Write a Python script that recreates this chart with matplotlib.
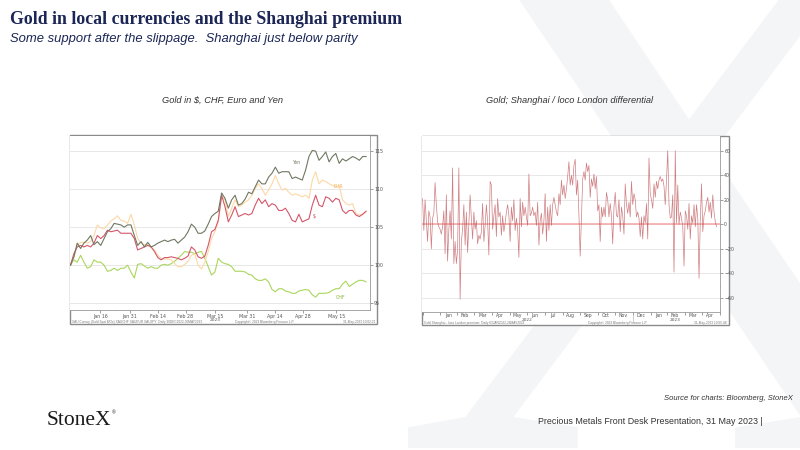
import numpy as np
import pandas as pd
import matplotlib
matplotlib.use("Agg")
import matplotlib.pyplot as plt
import matplotlib.dates as mdates
from matplotlib.patches import Rectangle, PathPatch
from matplotlib.textpath import TextPath
from matplotlib.font_manager import FontProperties
from matplotlib.transforms import Affine2D
from matplotlib.ticker import MultipleLocator, NullFormatter

# ---- left chart: gold rebased to 100, Jan-May 2023
gold_dates = pd.date_range("2023-01-01", "2023-05-30", periods=89)

gold_yen = [100.0, 101.1, 102.9, 102.2, 102.9, 103.3, 103.9, 102.7, 103.1, 102.6,
            103.5, 104.4, 104.8, 105.5, 105.4, 105.3, 105.0, 105.3, 105.3, 103.9,
            102.6, 103.1, 102.4, 103.0, 102.4, 102.6, 102.9, 103.1, 103.3, 103.1,
            103.3, 103.4, 102.9, 103.3, 103.7, 104.4, 105.4, 105.0, 104.2, 104.2,
            104.5, 105.4, 106.4, 106.8, 107.1, 109.5, 108.8, 107.5, 108.6, 109.2,
            107.9, 108.1, 108.7, 109.6, 109.4, 110.3, 111.2, 110.7, 110.7, 111.6,
            112.1, 112.9, 112.1, 112.3, 112.3, 112.3, 111.4, 111.6, 111.4, 111.2,
            112.5, 114.3, 115.1, 115.0, 113.8, 114.3, 114.9, 113.6, 114.3, 114.7,
            113.4, 114.0, 113.7, 114.0, 114.3, 114.1, 113.8, 114.3, 114.3]

gold_eur = [100.0, 100.9, 102.6, 103.0, 103.0, 102.9, 103.1, 103.9, 105.3, 104.9,
            104.8, 105.3, 105.8, 106.1, 106.5, 105.9, 105.8, 105.5, 106.7, 105.3,
            103.5, 102.9, 102.7, 102.7, 102.4, 102.0, 101.3, 100.9, 100.8, 100.8,
            100.7, 100.2, 99.8, 99.8, 100.1, 100.5, 101.3, 101.5, 100.0, 99.5,
            100.4, 101.8, 103.5, 104.4, 105.7, 109.0, 108.6, 106.4, 107.5, 108.6,
            107.7, 107.9, 108.3, 108.6, 109.2, 110.1, 110.7, 110.1, 109.2, 109.9,
            110.7, 111.8, 110.7, 109.9, 110.1, 109.6, 109.2, 109.4, 109.2, 109.0,
            109.2, 108.8, 111.2, 112.3, 110.7, 111.2, 111.0, 110.7, 110.5, 110.3,
            110.5, 108.6, 108.1, 107.9, 108.1, 106.8, 106.6, 106.7, 107.0]

gold_usd = [100.0, 101.5, 102.4, 102.6, 102.4, 102.6, 102.4, 102.9, 103.9, 103.5,
            103.9, 104.6, 104.4, 104.5, 104.6, 104.2, 104.2, 104.2, 104.2, 103.5,
            102.0, 102.2, 102.4, 102.6, 102.4, 101.8, 101.0, 100.7, 101.0, 101.0,
            101.1, 101.0, 100.9, 100.7, 100.9, 101.2, 102.4, 102.0, 101.1, 100.9,
            101.2, 102.6, 104.4, 104.7, 105.9, 109.2, 107.7, 105.7, 106.6, 107.7,
            106.4, 106.6, 106.8, 106.6, 106.8, 107.9, 108.8, 108.1, 108.6, 107.7,
            108.1, 107.9, 107.2, 107.2, 107.5, 106.8, 105.9, 105.7, 106.7, 105.7,
            105.9, 106.1, 107.9, 109.2, 107.9, 107.7, 109.0, 108.8, 108.3, 108.8,
            108.6, 107.2, 106.8, 107.2, 107.2, 106.6, 106.4, 106.7, 107.1]

gold_chf = [100.0, 100.7, 100.4, 101.3, 100.4, 99.6, 99.8, 100.7, 100.4, 100.4,
            100.0, 99.2, 99.3, 99.6, 99.3, 99.6, 99.6, 100.0, 99.1, 98.3,
            100.1, 100.2, 99.9, 99.6, 99.8, 99.6, 99.6, 100.0, 100.1, 100.0,
            100.2, 100.5, 100.9, 101.3, 101.8, 101.7, 101.7, 101.5, 101.7, 101.8,
            100.9, 99.8, 98.7, 99.1, 100.9, 100.4, 100.2, 100.1, 99.8, 99.2,
            99.2, 99.2, 99.1, 98.8, 98.7, 98.2, 98.0, 98.0, 98.2, 97.8,
            96.8, 96.5, 96.9, 96.9, 96.6, 96.5, 96.3, 96.3, 96.6, 96.7,
            96.8, 96.7, 96.1, 95.8, 96.3, 96.3, 96.3, 96.4, 96.7, 96.9,
            96.9, 97.5, 97.9, 97.2, 97.5, 97.8, 98.0, 98.0, 97.8]

gold_ticks = ["2023-01-16", "2023-01-31", "2023-02-14", "2023-02-28", "2023-03-15",
              "2023-03-31", "2023-04-14", "2023-04-28", "2023-05-15"]
gold_tick_labels = ["Jan 16", "Jan 31", "Feb 14", "Feb 28", "Mar 15",
                    "Mar 31", "Apr 14", "Apr 28", "May 15"]

# ---- right chart: Shanghai premium over loco London, $/oz
premium = [21, -5, 20, 3, -14, 11, 6, -20, 5, 9, 34, 16, 2, -2, -4, -8, -2, 11, -24, 24,
           -30, -4, 11, -12, 46, -32, -14, -32, -21, 46, -61, -14, -4, 16, -17, 10, -23, 1, 24, 5,
           -12, 10, -4, 3, -16, -9, -12, -6, 17, -14, -1, 16, 2, -25, 35, 32, -4, 7, 16, -10,
           21, 6, 10, -9, 7, -6, 1, 10, 16, 7, -14, 14, 3, 20, -5, 5, -4, -27, 21, -2,
           18, 7, 14, 6, -1, 41, 7, 9, 14, 7, 10, -1, 18, -17, 3, 9, -8, 3, 25, -14,
           14, -5, 16, -1, 16, 22, 16, 10, 7, 25, 16, 36, 24, 32, 21, 29, 39, 51, 32, 40,
           32, 48, 53, 24, 36, 7, -26, 5, 37, 43, 36, 50, 43, 48, 22, 37, 31, 41, 29, 39,
           11, 16, -14, 14, 6, 14, 6, 26, 20, 6, 17, 7, -16, 14, 26, 7, 6,
           20, -6, 14, 7, -8, 33, 16, 9, 18, 6, 35, 16, 25, 20, 6, 10, 5, -10, 6, -12,
           7, 1, 17, -12, 54, 25, 20, 13, 33, 22, 35, 29, 36, 39, 35, 37, 31, 16, 36, 60,
           16, 5, 6, 24, -39, 60, 1, 32, 0, 10, 5, -2, -34, 11, 7, -4, 17, -12, 7, 1,
           16, -2, 16, 5, -44, 3, 33, -6, 7, 11, 18, 22, 10, 18, 5, 24, 10, 2, -2]
prem_dates = pd.date_range("2022-01-01", "2023-05-26", periods=len(premium))

month_labels = ["Jan", "Feb", "Mar", "Apr", "May", "Jun", "Jul", "Aug", "Sep",
                "Oct", "Nov", "Dec", "Jan", "Feb", "Mar", "Apr", "May"]

NAVY = "#1b2656"
TICK = "#555555"
FRAME = "#8a8a8a"
GRID = "#e4e4e4"

fig = plt.figure(figsize=(8, 4.5), dpi=100)
fig.patch.set_facecolor("white")


def px(x, y):
    # pixel position (from top-left) to figure fraction
    return x / 800.0, 1 - y / 450.0


# background watermark X, drawn as a shape
xpath = TextPath((0, 0), "X", size=100, prop=FontProperties(family="Liberation Serif"))
ext = xpath.get_extents()
k = 520.0 / ext.height
wm = Affine2D().translate(-ext.x0, -ext.y0).scale(k).translate(408, 2)
fig.patches.append(PathPatch(wm.transform_path(xpath), transform=None,
                             facecolor="#f4f5f7", edgecolor="none", zorder=0))

# header
fig.text(*px(10, 24), "Gold in local currencies and the Shanghai premium",
         family="Liberation Serif", weight="bold", fontsize=12.8, color=NAVY)
fig.text(*px(10, 42), "Some support after the slippage.  Shanghai just below parity",
         family="Liberation Sans", style="italic", fontsize=9.4, color=NAVY)

# chart titles
fig.text(*px(222, 103), "Gold in $, CHF, Euro and Yen", family="Liberation Sans",
         style="italic", fontsize=6.7, color="#333333", ha="center")
fig.text(*px(570, 103), "Gold; Shanghai / loco London differential",
         family="Liberation Sans", style="italic", fontsize=6.7, color="#333333",
         ha="center")

# panel frames
for (x0, y0, x1, y1) in [(70, 135, 377, 324), (422, 136, 729, 325)]:
    fx0, fy1 = px(x0, y0)
    fx1, fy0 = px(x1, y1)
    fig.patches.append(Rectangle((fx0, fy0), fx1 - fx0, fy1 - fy0,
                                 transform=fig.transFigure, facecolor="white",
                                 edgecolor=FRAME, lw=1.0, zorder=1))


def style_axes(ax):
    ax.set_facecolor("white")
    for s in ["left", "top"]:
        ax.spines[s].set_visible(False)
    for s in ["right", "bottom"]:
        ax.spines[s].set_color("#9a9a9a")
        ax.spines[s].set_linewidth(0.6)
    ax.yaxis.tick_right()
    ax.tick_params(axis="both", which="major", labelsize=3.4, colors=TICK,
                   length=2, width=0.4, pad=1)
    ax.tick_params(axis="both", which="minor", length=1, width=0.3, colors=TICK)
    ax.grid(axis="y", color=GRID, lw=0.6)
    ax.set_axisbelow(True)


# ---- left chart
l, b = px(70, 310)
r, t = px(370, 136)
ax1 = fig.add_axes([l, b, r - l, t - b], zorder=2)
style_axes(ax1)
ax1.plot(gold_dates, gold_chf, color="#a9d65c", lw=0.8)
ax1.plot(gold_dates, gold_eur, color="#fdd8a6", lw=0.8)
ax1.plot(gold_dates, gold_usd, color="#d4576b", lw=0.8)
ax1.plot(gold_dates, gold_yen, color="#6f7862", lw=0.8)
ax1.set_xlim(pd.Timestamp("2022-12-31 18:00"), pd.Timestamp("2023-06-01"))
ax1.set_ylim(94.1, 117.0)
ax1.set_yticks([95, 100, 105, 110, 115])
ax1.yaxis.set_minor_locator(MultipleLocator(1))
ax1.set_xticks(pd.to_datetime(gold_ticks))
ax1.set_xticklabels(gold_tick_labels)
ax1.xaxis.set_minor_locator(mdates.DayLocator(interval=3))
ax1.text(pd.Timestamp("2023-03-15"), -0.045, "2023", transform=ax1.get_xaxis_transform(),
         ha="center", va="top", fontsize=3.2, color=TICK)
ax1.text(pd.Timestamp("2023-04-25"), 113.5, "Yen", fontsize=3.4, color="#6f7862",
         ha="center", va="center")
ax1.text(pd.Timestamp("2023-05-16"), 110.3, "EUR", fontsize=3.4, color="#f5b56a",
         ha="center", va="center")
ax1.text(pd.Timestamp("2023-05-04"), 106.4, "$", fontsize=3.4, color="#c23c50",
         ha="center", va="center")
ax1.text(pd.Timestamp("2023-05-17"), 95.7, "CHF", fontsize=3.4, color="#86b63a",
         ha="center", va="center")

# ---- right chart
l, b = px(422, 312)
r, t = px(720, 136)
ax2 = fig.add_axes([l, b, r - l, t - b], zorder=2)
style_axes(ax2)
ax2.axhline(0, color="#f5a3a3", lw=1.1, zorder=2)
ax2.plot(prem_dates, premium, color="#bf5458", lw=0.5, alpha=0.75, zorder=3)
ax2.set_xlim(pd.Timestamp("2021-12-31"), pd.Timestamp("2023-06-01"))
ax2.set_ylim(-71.5, 72)
ax2.set_yticks([-60, -40, -20, 0, 20, 40, 60])
ax2.yaxis.set_minor_locator(MultipleLocator(10))
month_starts = pd.date_range("2022-01-01", "2023-06-01", freq="MS")
ax2.set_xticks(month_starts)
ax2.xaxis.set_major_formatter(NullFormatter())
mids = pd.date_range("2022-01-15", "2023-05-15", freq="MS") + pd.Timedelta(days=14)
for d, lab in zip(mids, month_labels):
    ax2.text(d, -0.008, lab, transform=ax2.get_xaxis_transform(), ha="center",
             va="top", fontsize=3.3, color=TICK)
ax2.text(pd.Timestamp("2022-07-01"), -0.033, "2022", transform=ax2.get_xaxis_transform(),
         ha="center", va="top", fontsize=3.1, color=TICK)
ax2.text(pd.Timestamp("2023-03-15"), -0.033, "2023", transform=ax2.get_xaxis_transform(),
         ha="center", va="top", fontsize=3.1, color=TICK)
ax2.plot([pd.Timestamp("2023-01-01")] * 2, [0, -0.055], transform=ax2.get_xaxis_transform(),
         color="#aaaaaa", lw=0.4, clip_on=False)

# tiny Bloomberg footers inside the panels
foot = dict(fontsize=2.3, color="#777777", family="Liberation Sans", zorder=3,
            va="center")
fig.text(*px(72, 322), "XAU Curncy (Gold Spot $/Oz) XAUCHF XAUEUR XAUJPY  Daily 30DEC2022-30MAY2023", **foot)
fig.text(*px(235, 322), "Copyright\u00a9 2023 Bloomberg Finance L.P.", **foot)
fig.text(*px(375, 322), "31-May-2023 10:02:21", ha="right", **foot)
fig.text(*px(424, 323.2), "Gold Shanghai - loco London premium  Daily 03JAN2022-26MAY2023", **foot)
fig.text(*px(588, 323.2), "Copyright\u00a9 2023 Bloomberg Finance L.P.", **foot)
fig.text(*px(727, 323.2), "31-May-2023 10:05:48", ha="right", **foot)

# footer
fig.text(*px(793, 398), "Source for charts: Bloomberg, StoneX", family="Liberation Sans",
         style="italic", fontsize=5.5, color="#333333", ha="right", va="center")
fig.text(*px(47, 425), "StoneX", family="Liberation Serif", fontsize=15.5,
         color="#1a1a1a", va="baseline")
fig.text(*px(112, 414), "\u00ae", family="Liberation Sans", fontsize=3.5,
         color="#1a1a1a", va="baseline")
fig.text(*px(538, 422), "Precious Metals Front Desk Presentation, 31 May 2023 |",
         family="Liberation Sans", fontsize=6.4, color="#333333", va="center")

fig.savefig("out.png", dpi=100, facecolor="white")
